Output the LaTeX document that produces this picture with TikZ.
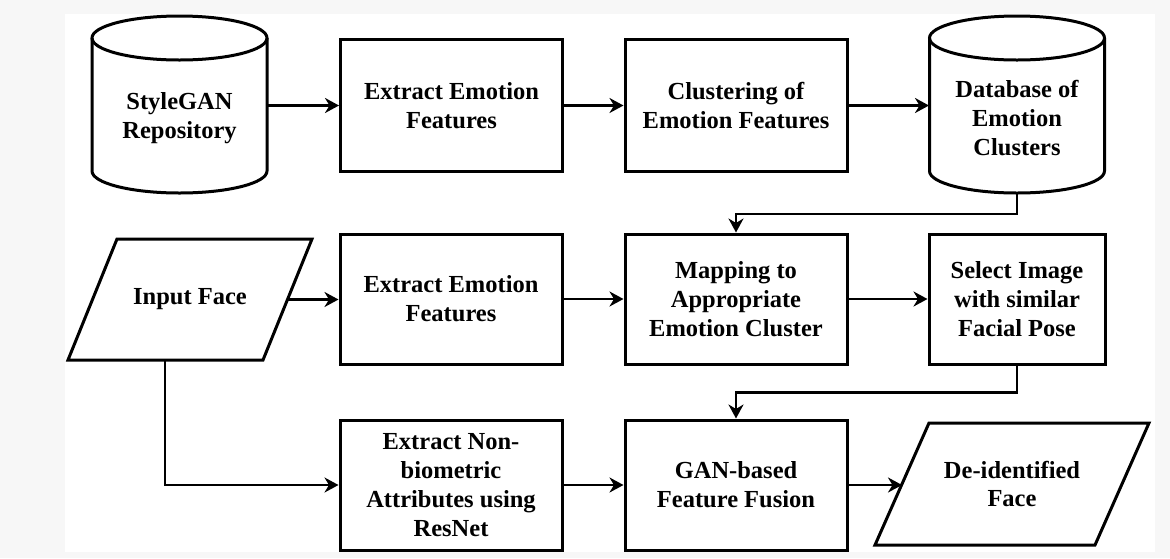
\documentclass[tikz,border=0pt]{standalone}
\usepackage{fontspec}
\setmainfont{Liberation Serif}
\usetikzlibrary{arrows.meta,calc}
\tikzset{
  shp/.style={draw=black, line width=3pt, line join=miter},
  box/.style={shp, rectangle, inner sep=0pt, align=center, font=\fontsize{24.5}{28.8}\selectfont\bfseries},
  txt/.style={inner sep=0pt, align=center, font=\fontsize{24.5}{28.8}\selectfont\bfseries},
  arr/.style={draw=black, line width=2.8pt, -{Stealth[length=14pt,width=15pt,inset=4.5pt]}},
}
\newcommand{\dbcylinder}[1]{%
  \draw[shp, fill=white] (#1-87.5,38) -- (#1-87.5,171) arc[start angle=180,end angle=0,x radius=87.5,y radius=22] -- (#1+87.5,38);
  \draw[shp] (#1,38) ellipse[x radius=87.5,y radius=22];
}
\begin{document}
\begin{tikzpicture}[x=1pt,y=-1pt]
\useasboundingbox (0,0) rectangle (1170,558);
\fill[black!3] (0,0) rectangle (1170,558);
\fill[white] (65,14) rectangle (1155,552);

% row 1
\dbcylinder{179.5}
\node[txt] (sg) at (179.5,118) {StyleGAN\\Repository};
\coordinate (sgE) at (267,105.5);
\node[box, minimum width=222pt, minimum height=132pt] (ee1) at (451.5,105.5) {Extract Emotion\\Features};
\node[box, minimum width=222pt, minimum height=132pt] (cl) at (736,105.5) {Clustering of\\Emotion Features};
\dbcylinder{1017}
\node[txt] (db) at (1017,118) {Database of\\Emotion\\Clusters};
\coordinate (dbW) at (929,105.5);
\coordinate (dbS) at (1017,193);

% row 2
\coordinate (ifA) at (117,239);
\coordinate (ifB) at (312,239);
\coordinate (ifC) at (263,360);
\coordinate (ifD) at (68,360);
\draw[shp] (ifA) -- (ifB) -- (ifC) -- (ifD) -- cycle;
\node[txt] (inp) at (190,299.5) {Input Face};
\coordinate (ifE) at ($(ifB)!0.5!(ifC)$);
\coordinate (ifS) at (165,360);
\node[box, minimum width=222pt, minimum height=130pt] (ee2) at (451,299) {Extract Emotion\\Features};
\node[box, minimum width=222pt, minimum height=130pt] (map) at (736,299) {Mapping to\\Appropriate\\Emotion Cluster};
\node[box, minimum width=176pt, minimum height=130pt] (sel) at (1017,299) {Select Image\\with similar\\Facial Pose};

% row 3
\node[box, minimum width=222pt, minimum height=130pt] (enb) at (451,485) {Extract Non-\\biometric\\Attributes using\\ResNet};
\node[box, minimum width=222pt, minimum height=130pt] (gan) at (736,485) {GAN-based\\Feature Fusion};
\coordinate (dA) at (929,423);
\coordinate (dB) at (1149,423);
\coordinate (dC) at (1095,545);
\coordinate (dD) at (875,545);
\draw[shp] (dA) -- (dB) -- (dC) -- (dD) -- cycle;
\node[txt] (deid) at (1012,484) {De-identified\\Face};
\coordinate (dW) at ($(dD)!0.5!(dA)$);

% connectors
\draw[arr] (sgE) -- (ee1.west);
\draw[arr] (ee1.east) -- (cl.west);
\draw[arr] (cl.east) -- (dbW);
\draw[arr] (dbS) -- ++(0,21) -| (map.north);
\draw[arr] (ifE) -- (ifE -| ee2.west);
\draw[arr] (ee2.east) -- (map.west);
\draw[arr] (map.east) -- (sel.west);
\draw[arr] (sel.south) -- ++(0,27) -| (gan.north);
\draw[arr] (ifS) |- (enb.west);
\draw[arr] (enb.east) -- (gan.west);
\draw[arr] (gan.east) -- (gan.east -| dW);
\end{tikzpicture}
\end{document}
